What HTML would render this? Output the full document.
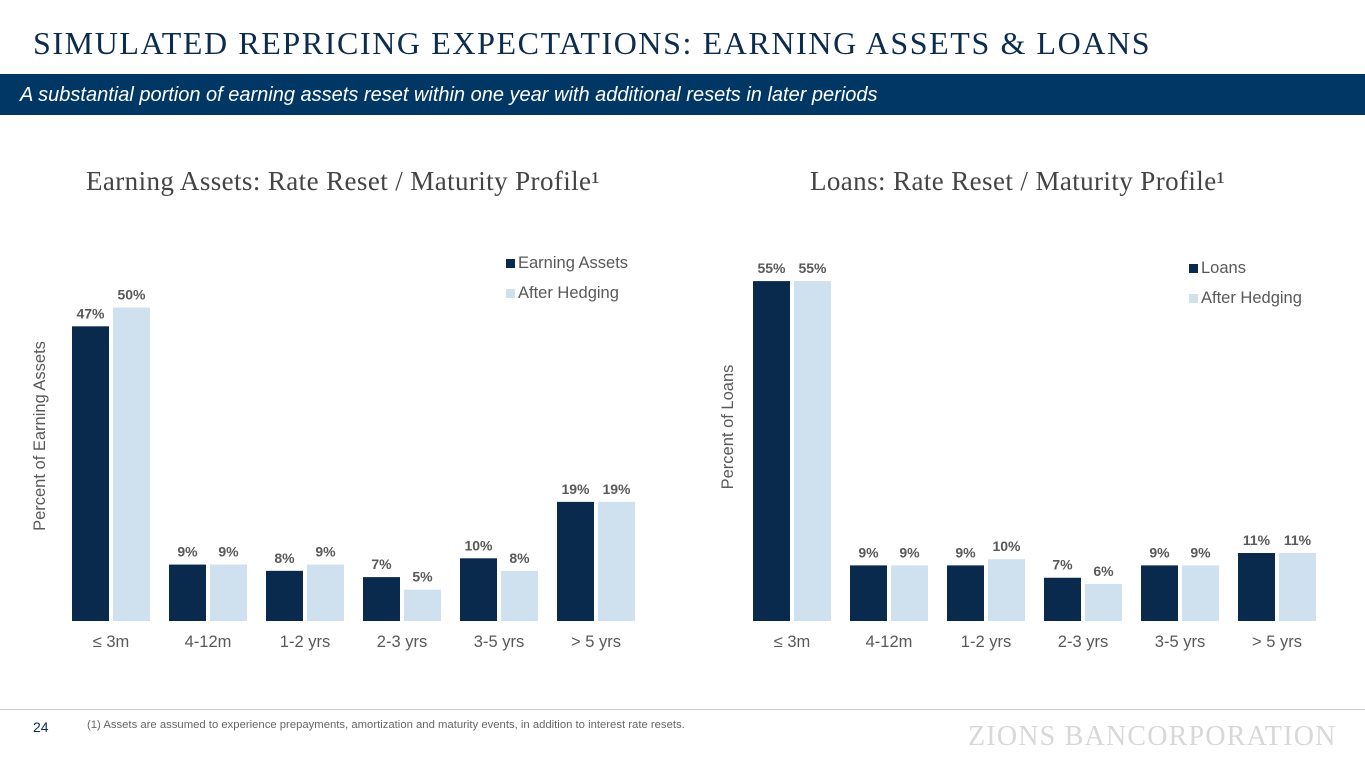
<!DOCTYPE html>
<html><head><meta charset="utf-8"><style>
body{margin:0;width:1365px;height:768px;background:#fff;overflow:hidden;position:relative;font-family:"Liberation Sans",sans-serif}
.abs{position:absolute}
</style></head><body>
<div class="abs" style="left:33px;top:25px;font-family:'Liberation Serif',serif;font-size:32px;letter-spacing:1.6px;color:#0b2c4f;white-space:nowrap">SIMULATED REPRICING EXPECTATIONS: EARNING ASSETS &amp; LOANS</div>
<div class="abs" style="left:0;top:74px;width:1365px;height:41px;background:#003764"></div>
<div class="abs" style="left:20px;top:84px;font-size:20px;font-style:italic;color:#fff;white-space:nowrap">A substantial portion of earning assets reset within one year with additional resets in later periods</div>
<svg class="abs" style="left:0;top:0" width="1365" height="768" id="chart"></svg>
<div class="abs" style="left:0;top:709px;width:1365px;height:1px;background:#ccc"></div>
<div class="abs" style="left:33px;top:719px;font-size:14px;color:#0b2c4f">24</div>
<div class="abs" style="left:87px;top:719px;font-size:11.3px;color:#666;white-space:nowrap">(1)  Assets are assumed to experience prepayments, amortization and maturity events, in addition to interest rate resets.</div>
<div class="abs" style="left:968px;top:721px;font-family:'Liberation Serif',serif;font-size:28px;letter-spacing:1.2px;color:#d8d8d8;white-space:nowrap">ZIONS BANCORPORATION</div>
<script>
const categories=["≤ 3m","4-12m","1-2 yrs","2-3 yrs","3-5 yrs","> 5 yrs"];
const assetsValues=[47,9,8,7,10,19];
const assetsHedged=[50,9,9,5,8,19];
const loansValues=[55,9,9,7,9,11];
const loansHedged=[55,9,10,6,9,11];
const svg=document.getElementById('chart');
const NS='http://www.w3.org/2000/svg';
function mk(tag,attrs,txt){const e=document.createElementNS(NS,tag);for(const k in attrs)e.setAttribute(k,attrs[k]);if(txt!==undefined)e.textContent=txt;svg.appendChild(e);return e;}
function chart(cfg){
  const base=621,bw=37,gap=4,step=97;
  const y=v=>base-v*cfg.scale;
  const x=i=>cfg.x0+i*step;
  let t=mk('text',{x:cfg.titleX,y:190,'font-family':'Liberation Serif, serif','font-size':27,'letter-spacing':0.4,fill:'#444'},cfg.title);
  
  t=mk('text',{x:0,y:0,transform:`translate(${cfg.ytx},${cfg.yty}) rotate(-90)`,'text-anchor':'middle','font-size':16.5,fill:'#595959'},cfg.ytitle);
  
  [[cfg.a,'#0a2a4d',0],[cfg.b,'#cfe0ee',1]].forEach(([arr,col,s])=>{
    arr.forEach((v,i)=>{
      const bx=x(i)+s*(bw+gap);
      const r=mk('rect',{x:bx,y:y(v),width:bw,height:base-y(v),fill:col});
      
      
      const l=mk('text',{x:bx+bw/2,y:y(v)-8,'text-anchor':'middle','font-size':14,'font-weight':'bold',fill:'#595959'},v+'%');
      
      
    });
  });
  categories.forEach((c,i)=>{
    const l=mk('text',{x:x(i)+bw+gap/2,y:647,'text-anchor':'middle','font-size':16.5,fill:'#595959'},c);
    
    
  });
  cfg.legend.forEach((name,j)=>{
    const ly=cfg.ly+j*30;
    const r=mk('rect',{x:cfg.lx,y:ly-9,width:9,height:9,fill:j?'#cfe0ee':'#0a2a4d'});
    
    
    const l=mk('text',{x:cfg.lx+12,y:ly,'font-size':16.5,fill:'#595959'},name);
    
    
  });
}
chart({key:'assets',x0:72,scale:6.27,a:assetsValues,b:assetsHedged,title:'Earning Assets: Rate Reset / Maturity Profile¹',titleX:86,ytitle:'Percent of Earning Assets',ytx:45,yty:436,legend:['Earning Assets','After Hedging'],lx:506,ly:268});
chart({key:'loans',x0:753,scale:6.18,a:loansValues,b:loansHedged,title:'Loans: Rate Reset / Maturity Profile¹',titleX:810,ytitle:'Percent of Loans',ytx:733,yty:427,legend:['Loans','After Hedging'],lx:1189,ly:273});
</script>
</body></html>
